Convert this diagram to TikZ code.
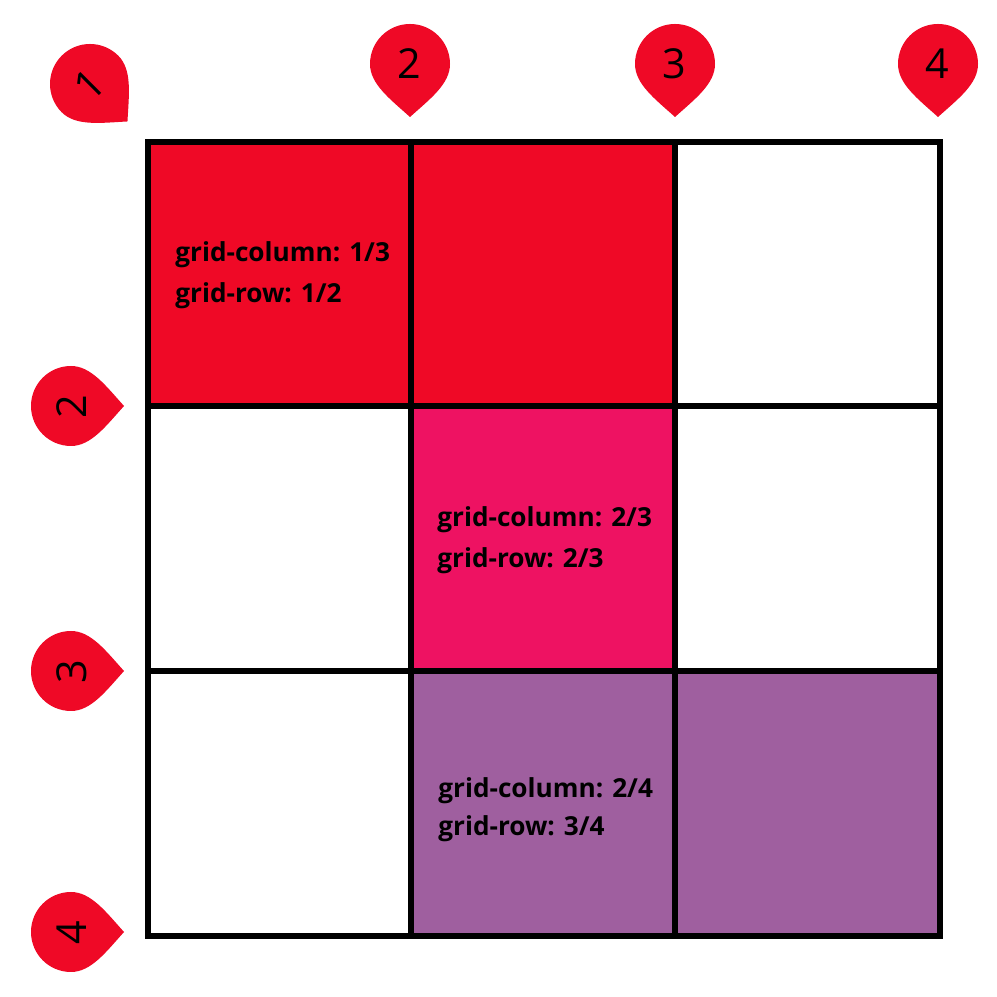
\documentclass[tikz,border=0pt]{standalone}
\usepackage{fontspec}
\setmainfont{Open Sans}
\definecolor{mred}{HTML}{EF0926}
\definecolor{mpink}{HTML}{EE1262}
\definecolor{mpurple}{HTML}{9F5F9F}
\tikzset{
  gridline/.style={draw=black,line width=.115cm,line join=miter},
  celllabel/.style={anchor=base west,inner sep=0pt,font=\fontsize{14.9pt}{18pt}\selectfont\bfseries,text=black},
  markernum/.style={anchor=base,inner sep=0pt,font=\fontsize{23.5pt}{28pt}\selectfont,text=black},
}
\newcommand{\gridmarker}[5]{% name, x, y, rotation, digit
  \begin{scope}[shift={(#2,#3)},rotate=#4]
    \fill[mred] (0,-53) .. controls (-20,-35) and (-40,-20) .. (-40,0)
      arc[start angle=180,end angle=0,radius=40]
      .. controls (40,-20) and (20,-35) .. cycle;
    \node[markernum,rotate=#4] (#1) at (-0.5,-15) {#5};
  \end{scope}
}
\begin{document}
\begin{tikzpicture}[x=.02cm,y=.02cm]
\useasboundingbox (0,0) rectangle (997,997);
\fill[white] (0,0) rectangle (997,997);
% cells
\fill[mred] (148,855) rectangle (675,591);
\fill[mpink] (411,591) rectangle (675,326);
\fill[mpurple] (411,326) rectangle (940,61);
% grid
\draw[gridline] (148,855) rectangle (940,61);
\draw[gridline] (411,855) -- (411,61);
\draw[gridline] (675,855) -- (675,61);
\draw[gridline] (148,591) -- (940,591);
\draw[gridline] (148,326) -- (940,326);
% labels
\node[celllabel] (a1) at (175,735) {grid-column: 1/3};
\node[celllabel] (a2) at (175,694) {grid-row: 1/2};
\node[celllabel] (b1) at (437,470) {grid-column: 2/3};
\node[celllabel] (b2) at (437,429) {grid-row: 2/3};
\node[celllabel] (c1) at (438,199) {grid-column: 2/4};
\node[celllabel] (c2) at (438,161) {grid-row: 3/4};
% markers
\gridmarker{m1}{90}{913}{45}{1}
\gridmarker{t2}{410}{933}{0}{2}
\gridmarker{t3}{675}{933}{0}{3}
\gridmarker{t4}{938}{933}{0}{4}
\gridmarker{l2}{71}{591}{90}{2}
\gridmarker{l3}{71}{326}{90}{3}
\gridmarker{l4}{71}{65}{90}{4}
\end{tikzpicture}
\end{document}
